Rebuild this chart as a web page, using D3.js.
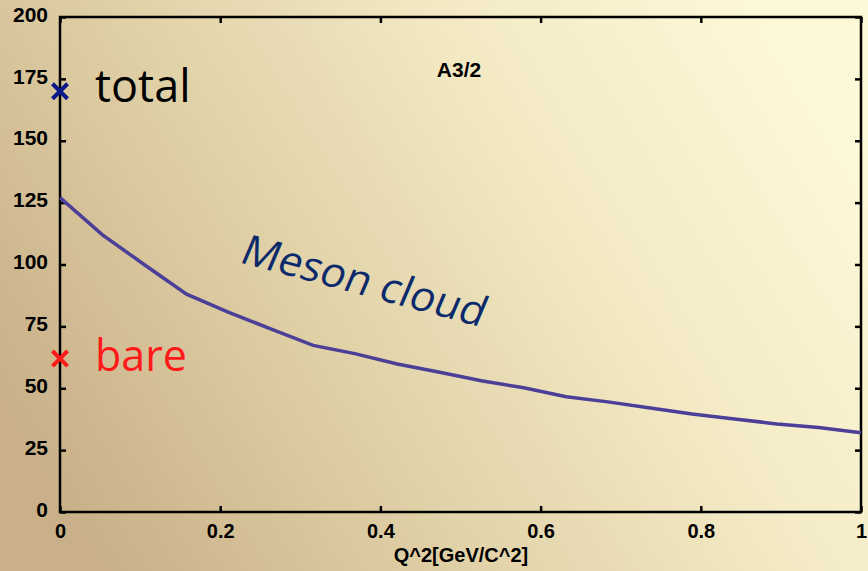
<!DOCTYPE html>
<html>
<head>
<meta charset="utf-8">
<script src="https://cdn.jsdelivr.net/npm/d3@7"></script>
<style>
  body { margin: 0; }
  svg text { font-family: "Liberation Sans", Arial, sans-serif; }
</style>
</head>
<body>
<div id="chart"></div>
<script>
// meson cloud curve for A3/2
var q2 = [0, 0.053, 0.105, 0.158, 0.21, 0.263, 0.316, 0.368, 0.421, 0.474, 0.526, 0.579, 0.632, 0.684, 0.737, 0.789, 0.842, 0.895, 0.947, 1];
var mesonCloud = [127, 112, 100, 88, 80.8, 74, 67.3, 64, 59.8, 56.5, 53, 50.2, 46.6, 44.5, 42, 39.6, 37.6, 35.6, 34.1, 32];

var totalPoint = {x: 0, y: 170};
var barePoint = {x: 0, y: 62};

var xTicks = [0, 0.2, 0.4, 0.6, 0.8, 1];
var yTicks = [0, 25, 50, 75, 100, 125, 150, 175, 200];

var width = 868, height = 571;
var margin = {left: 60, right: 7, top: 17, bottom: 59};

var svg = d3.select('#chart').append('svg')
  .attr('width', width)
  .attr('height', height);

var defs = svg.append('defs');
var grad = defs.append('linearGradient')
  .attr('id', 'bg')
  .attr('x1', '0%').attr('y1', '70%')
  .attr('x2', '100%').attr('y2', '30%');
grad.append('stop').attr('offset', '0%').attr('stop-color', '#c9b088');
grad.append('stop').attr('offset', '35%').attr('stop-color', '#e0d0a6');
grad.append('stop').attr('offset', '70%').attr('stop-color', '#f4ebc6');
grad.append('stop').attr('offset', '100%').attr('stop-color', '#fdf8d8');

svg.append('rect')
  .attr('width', width).attr('height', height)
  .attr('fill', 'url(#bg)');

var x = d3.scaleLinear().domain([0, 1]).range([margin.left, width - margin.right]);
var y = d3.scaleLinear().domain([0, 200]).range([height - margin.bottom, margin.top]);

// box
svg.append('rect')
  .attr('x', x(0)).attr('y', y(200))
  .attr('width', x(1) - x(0)).attr('height', y(0) - y(200))
  .attr('fill', 'none').attr('stroke', '#000').attr('stroke-width', 2.5);

var fmtX = function(d) { return d === 0 || d === 1 ? d : d3.format('.1f')(d); };

var xAxis = svg.append('g')
  .attr('transform', 'translate(0,' + y(0) + ')')
  .call(d3.axisBottom(x).tickValues(xTicks).tickSize(-6).tickPadding(12).tickFormat(fmtX));
var xTop = svg.append('g')
  .attr('transform', 'translate(0,' + y(200) + ')')
  .call(d3.axisTop(x).tickValues(xTicks).tickSize(-6).tickFormat(''));
var yAxis = svg.append('g')
  .attr('transform', 'translate(' + x(0) + ',0)')
  .call(d3.axisLeft(y).tickValues(yTicks).tickSize(-6).tickPadding(12));
var yRight = svg.append('g')
  .attr('transform', 'translate(' + x(1) + ',0)')
  .call(d3.axisRight(y).tickValues(yTicks).tickSize(-6).tickFormat(''));

[xAxis, xTop, yAxis, yRight].forEach(function(g) {
  g.select('.domain').remove();
  g.selectAll('line').attr('stroke', '#000').attr('stroke-width', 2.5);
  g.selectAll('text')
    .attr('font-size', 21)
    .attr('font-weight', 'bold')
    .attr('fill', '#000')
    .style('font-family', '"Liberation Sans", Arial, sans-serif');
});
xAxis.selectAll('text').attr('font-size', 20);
yAxis.selectAll('text').attr('dy', '0.2em');

svg.append('text')
  .attr('x', 461).attr('y', 562)
  .attr('text-anchor', 'middle')
  .attr('font-size', 20).attr('font-weight', 'bold')
  .text('Q^2[GeV/C^2]');

svg.append('text')
  .attr('x', 459).attr('y', 77)
  .attr('text-anchor', 'middle')
  .attr('font-size', 21).attr('font-weight', 'bold')
  .text('A3/2');

// curve
var line = d3.line()
  .x(function(d, i) { return x(q2[i]); })
  .y(function(d) { return y(d); });

svg.append('path')
  .datum(mesonCloud)
  .attr('d', line)
  .attr('fill', 'none')
  .attr('stroke', '#4b3f98')
  .attr('stroke-width', 3.5);

// markers
var cross = d3.symbol().type(d3.symbolX).size(150);
svg.append('path')
  .attr('d', cross)
  .attr('transform', 'translate(' + x(totalPoint.x) + ',' + y(totalPoint.y) + ')')
  .attr('stroke', '#0b1a8a').attr('stroke-width', 4).attr('fill', 'none');
svg.append('path')
  .attr('d', cross)
  .attr('transform', 'translate(' + x(barePoint.x) + ',' + y(barePoint.y) + ')')
  .attr('stroke', '#ff1a1a').attr('stroke-width', 4).attr('fill', 'none');

svg.append('text')
  .attr('x', 95).attr('y', 102)
  .attr('font-size', 45)
  .style('font-family', '"Open Sans", "Noto Sans", sans-serif')
  .attr('fill', '#000')
  .text('total');

svg.append('text')
  .attr('x', 95).attr('y', 371)
  .attr('font-size', 43)
  .style('font-family', '"Open Sans", "Noto Sans", sans-serif')
  .attr('fill', '#ff1a1a')
  .text('bare');

svg.append('text')
  .attr('transform', 'translate(238,262) rotate(15) skewX(-8)')
  .attr('font-size', 42)
  .style('font-family', '"Open Sans", "Noto Sans", sans-serif')
  .attr('fill', '#0c2a6b')
  .text('Meson cloud');
</script>
</body>
</html>
